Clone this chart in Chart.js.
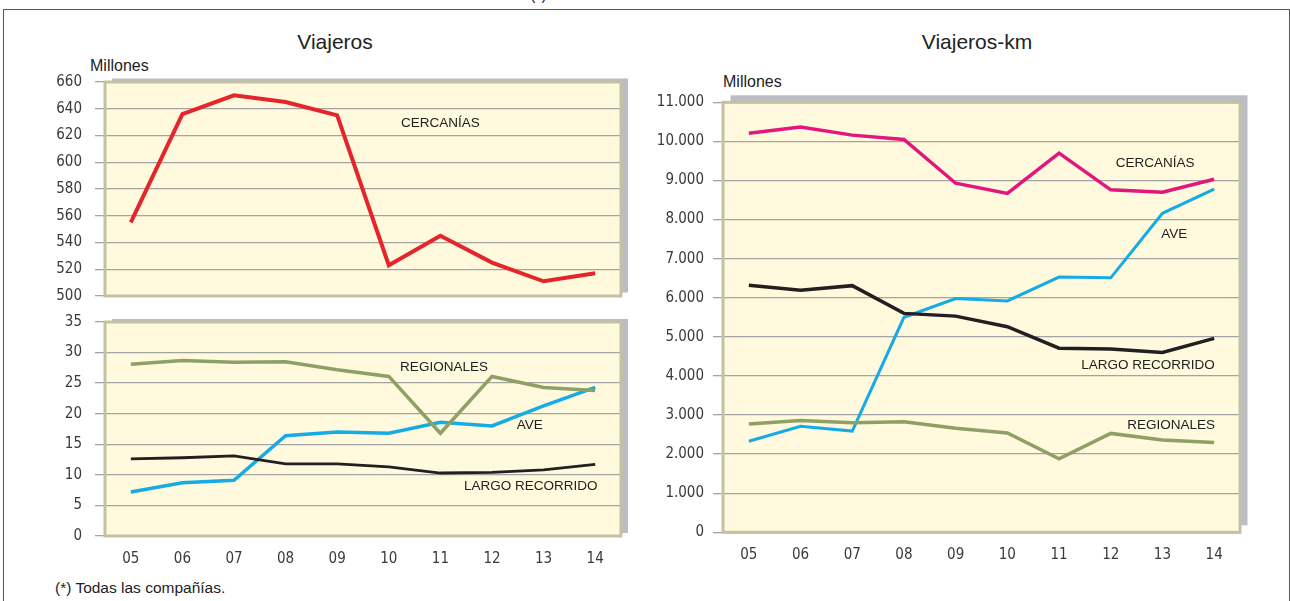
<!DOCTYPE html>
<html>
<head>
<meta charset="utf-8">
<script src="https://cdn.jsdelivr.net/npm/chart.js@4.4.1/dist/chart.umd.min.js"></script>
<style>
  html, body { margin: 0; padding: 0; background: #fff; }
  #page { position: relative; width: 1290px; height: 601px; overflow: hidden; font-family: "Liberation Sans", Arial, sans-serif; color: #222; }
  #frame { position: absolute; left: 3px; top: 9px; width: 1287px; height: 700px; border: 1.5px solid #555; box-sizing: border-box; }
  .txt { position: absolute; white-space: nowrap; }
  canvas { position: absolute; }
</style>
</head>
<body>
<div id="page">
  <div id="frame"></div>
  <div class="txt" style="left:530px; top:-14px; font-size:16px; line-height:18px;">(*)</div>
  <div class="txt" style="left:335px; top:30px; font-size:21px; transform:translateX(-50%);">Viajeros</div>
  <div class="txt" style="left:977px; top:30px; font-size:21px; transform:translateX(-50%);">Viajeros-km</div>
  <div class="txt" style="left:90px; top:57px; font-size:16px;">Millones</div>
  <div class="txt" style="left:723px; top:73px; font-size:16px;">Millones</div>
  <div class="txt" style="left:55px; top:579px; font-size:15.5px;">(*) Todas las compañías.</div>
  <canvas id="chartTop" width="600" height="258" style="left:40px; top:60px;"></canvas>
  <canvas id="chartBottom" width="600" height="290" style="left:40px; top:300px;"></canvas>
  <canvas id="chartKm" width="630" height="530" style="left:650px; top:60px;"></canvas>
</div>
<script>
const years = ["05", "06", "07", "08", "09", "10", "11", "12", "13", "14"];

// Viajeros (millones)
const cercaniasViajeros = [555, 636, 650, 645, 635, 523, 545, 525, 511, 517];
const regionalesViajeros = [28.1, 28.7, 28.4, 28.5, 27.2, 26.1, 16.8, 26.1, 24.3, 23.8];
const aveViajeros = [7.2, 8.7, 9.1, 16.4, 17.0, 16.8, 18.6, 18.0, 21.3, 24.3];
const largoViajeros = [12.6, 12.8, 13.1, 11.8, 11.8, 11.3, 10.3, 10.4, 10.8, 11.7];

// Viajeros-km (millones)
const cercaniasKm = [10210, 10370, 10160, 10050, 8930, 8670, 9700, 8760, 8700, 9030];
const aveKm = [2330, 2710, 2590, 5500, 5980, 5920, 6530, 6510, 8160, 8780];
const largoKm = [6320, 6190, 6310, 5600, 5530, 5260, 4710, 4690, 4600, 4960];
const regionalesKm = [2770, 2860, 2800, 2830, 2660, 2540, 1880, 2530, 2360, 2300];

const kmTickLabels = ["0", "1.000", "2.000", "3.000", "4.000", "5.000", "6.000",
  "7.000", "8.000", "9.000", "10.000", "11.000"];

const tickFont = { family: "'Liberation Sans Narrow', 'DejaVu Sans Condensed', sans-serif", size: 15 };
const tickColor = "#3a3a3a";
const gridColor = "#a3a3a3";

// yellow box with grey shadow behind the plot area
const boxPlugin = {
  id: "box",
  beforeDraw(chart, args, opts) {
    const { ctx, chartArea: a } = chart;
    ctx.save();
    ctx.fillStyle = "#bcbdc2";
    ctx.fillRect(a.left + opts.dx, a.top - opts.dy, a.width, a.height);
    ctx.fillStyle = "#fffadd";
    ctx.fillRect(a.left, a.top, a.width, a.height);
    ctx.restore();
  },
  beforeDatasetsDraw(chart) {
    const { ctx, chartArea: a } = chart;
    ctx.save();
    ctx.strokeStyle = "#c4c1a3";
    ctx.lineWidth = 3;
    ctx.strokeRect(a.left, a.top, a.width, a.height);
    ctx.restore();
  },
  afterDatasetsDraw(chart, args, opts) {
    const { ctx, scales } = chart;
    ctx.save();
    ctx.fillStyle = "#222";
    ctx.font = "13.5px 'Liberation Sans', Arial, sans-serif";
    ctx.textAlign = "center";
    ctx.textBaseline = "middle";
    (opts.labels || []).forEach(l => {
      ctx.fillText(l.text, scales.x.getPixelForValue(l.x), scales.y.getPixelForValue(l.y));
    });
    ctx.restore();
  }
};

function line(data, color, width) {
  return {
    data: data,
    borderColor: color,
    borderWidth: width,
    pointRadius: 0,
    fill: false,
    tension: 0
  };
}

function baseOptions(opt) {
  return {
    responsive: false,
    animation: false,
    layout: { padding: opt.padding },
    plugins: {
      legend: { display: false },
      tooltip: { enabled: false },
      box: { dx: opt.dx, dy: opt.dy, labels: opt.labels }
    },
    scales: {
      x: {
        display: opt.showX,
        offset: true,
        grid: { display: false },
        border: { display: false },
        ticks: { font: tickFont, color: tickColor, padding: 6, maxRotation: 0 },
        afterFit(scale) { if (opt.showX) scale.height = 30; }
      },
      y: {
        min: opt.min,
        max: opt.max,
        grid: { color: gridColor, lineWidth: 1.3, tickLength: 10, tickColor: gridColor },
        border: { display: false },
        ticks: {
          stepSize: opt.step,
          font: tickFont,
          color: tickColor,
          padding: opt.tickPad,
          callback: opt.tickCb || (v => v)
        },
        afterFit(scale) { scale.width = opt.yWidth; }
      }
    }
  };
}

new Chart(document.getElementById("chartTop"), {
  type: "line",
  data: {
    labels: years,
    datasets: [line(cercaniasViajeros, "#e4262b", 4)]
  },
  options: baseOptions({
    padding: { top: 21.5, right: 19, bottom: 22, left: 0 },
    dx: 7, dy: 3.5, showX: false,
    min: 500, max: 660, step: 20, tickPad: 13, yWidth: 65,
    labels: [{ text: "CERCANÍAS", x: 6.0, y: 628.8 }]
  }),
  plugins: [boxPlugin]
});

new Chart(document.getElementById("chartBottom"), {
  type: "line",
  data: {
    labels: years,
    datasets: [
      line(regionalesViajeros, "#8fa066", 3.5),
      line(largoViajeros, "#231f20", 2.8),
      line(aveViajeros, "#16aae6", 3.5)
    ]
  },
  options: baseOptions({
    padding: { top: 21.5, right: 19, bottom: 24, left: 0 },
    dx: 7, dy: 3, showX: true,
    min: 0, max: 35, step: 5, tickPad: 13, yWidth: 65,
    labels: [
      { text: "REGIONALES", x: 6.07, y: 27.6 },
      { text: "AVE", x: 7.73, y: 18.1 },
      { text: "LARGO RECORRIDO", x: 7.75, y: 8.15 }
    ]
  }),
  plugins: [boxPlugin]
});

new Chart(document.getElementById("chartKm"), {
  type: "line",
  data: {
    labels: years,
    datasets: [
      line(cercaniasKm, "#e3167e", 3.5),
      line(regionalesKm, "#8fa066", 3.5),
      line(largoKm, "#231f20", 3.5),
      line(aveKm, "#16aae6", 3)
    ]
  },
  options: baseOptions({
    padding: { top: 42.3, right: 40, bottom: 27.7, left: 0 },
    dx: 7.5, dy: 7, showX: true,
    min: 0, max: 11000, step: 1000, tickPad: 9, yWidth: 73,
    tickCb: (v, i) => kmTickLabels[i],
    labels: [
      { text: "CERCANÍAS", x: 7.86, y: 9447 },
      { text: "AVE", x: 8.23, y: 7629 },
      { text: "LARGO RECORRIDO", x: 7.72, y: 4283 },
      { text: "REGIONALES", x: 8.17, y: 2739 }
    ]
  }),
  plugins: [boxPlugin]
});
</script>
</body>
</html>
